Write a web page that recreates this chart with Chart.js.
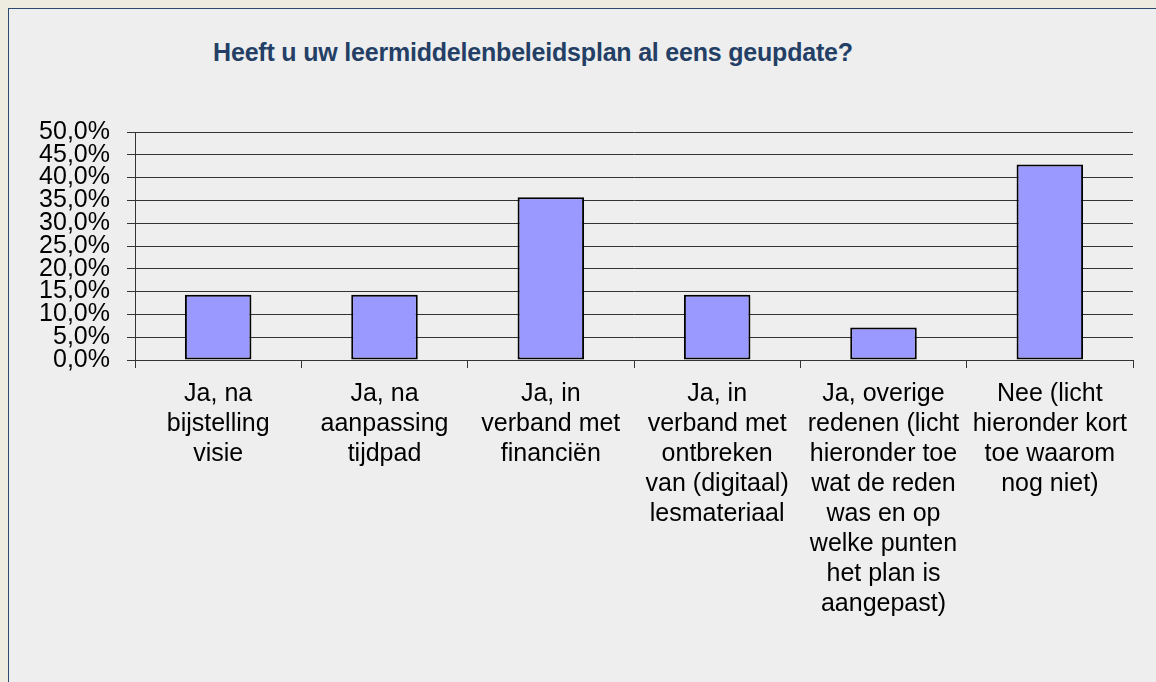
<!DOCTYPE html>
<html>
<head>
<meta charset="utf-8">
<script src="https://cdn.jsdelivr.net/npm/chart.js@4/dist/chart.umd.min.js"></script>
<style>
  html, body { margin: 0; padding: 0; background: #eeebe1; }
  #box {
    position: absolute; left: 8px; top: 8px; width: 1160px; height: 690px;
    background: #eeeeee; border: 1px solid #2b4a72; box-sizing: border-box;
  }
  #title {
    position: absolute; left: 0; top: 38px; width: 1066px; text-align: center;
    font-family: "Liberation Sans", Arial, sans-serif; font-weight: bold; font-size: 25px;
    color: #243f66; letter-spacing: -0.2px;
  }
  #wrap { position: absolute; left: 0; top: 0; width: 1156px; height: 682px; }
</style>
</head>
<body>
<div id="box"></div>
<div id="title">Heeft u uw leermiddelenbeleidsplan al eens geupdate?</div>
<div id="wrap"><canvas id="chart"></canvas></div>
<script>
// categories, each split in the lines as shown under the axis
const categories = [
  ["Ja, na", "bijstelling", "visie"],
  ["Ja, na", "aanpassing", "tijdpad"],
  ["Ja, in", "verband met", "financiën"],
  ["Ja, in", "verband met", "ontbreken", "van (digitaal)", "lesmateriaal"],
  ["Ja, overige", "redenen (licht", "hieronder toe", "wat de reden", "was en op", "welke punten", "het plan is", "aangepast)"],
  ["Nee (licht", "hieronder kort", "toe waarom", "nog niet)"]
]
const percentages = [14.3, 14.3, 35.7, 14.3, 7.1, 42.9]
const yTicks = [0, 5, 10, 15, 20, 25, 30, 35, 40, 45, 50]

function formatPct(v) {
  return v.toFixed(1).replace(".", ",") + "%"
}

const font = { family: "'Liberation Sans', Arial, sans-serif", size: 25 }

new Chart(document.getElementById("chart"), {
  type: "bar",
  data: {
    labels: categories,
    datasets: [{
      data: percentages,
      backgroundColor: "#9999ff",
      borderColor: "#000000",
      borderWidth: 2,
      borderSkipped: false,
      barPercentage: 0.4,
      categoryPercentage: 1
    }]
  },
  options: {
    responsive: true,
    maintainAspectRatio: false,
    animation: false,
    layout: { padding: { top: 132, right: 23, left: 0, bottom: 0 } },
    plugins: { legend: { display: false }, tooltip: { enabled: false }, title: { display: false } },
    scales: {
      x: {
        grid: { display: true, drawOnChartArea: false, drawTicks: true, tickLength: 8, color: "#333333", offset: true },
        border: { color: "#333333" },
        ticks: { color: "#000", font: { ...font, lineHeight: 1.2 }, padding: 11, maxRotation: 0, autoSkip: false },
        afterFit: scale => { scale.height = 682 - 360 }
      },
      y: {
        min: 0,
        max: 50,
        afterBuildTicks: scale => { scale.ticks = yTicks.map(v => ({ value: v })) },
        grid: { color: "#333333", tickLength: 8 },
        border: { color: "#333333" },
        ticks: { color: "#000", font: { ...font, lineHeight: 0.9 }, padding: 17, autoSkip: false, callback: v => formatPct(v) },
        afterFit: scale => { scale.width = 135 }
      }
    }
  }
})
</script>
</body>
</html>
